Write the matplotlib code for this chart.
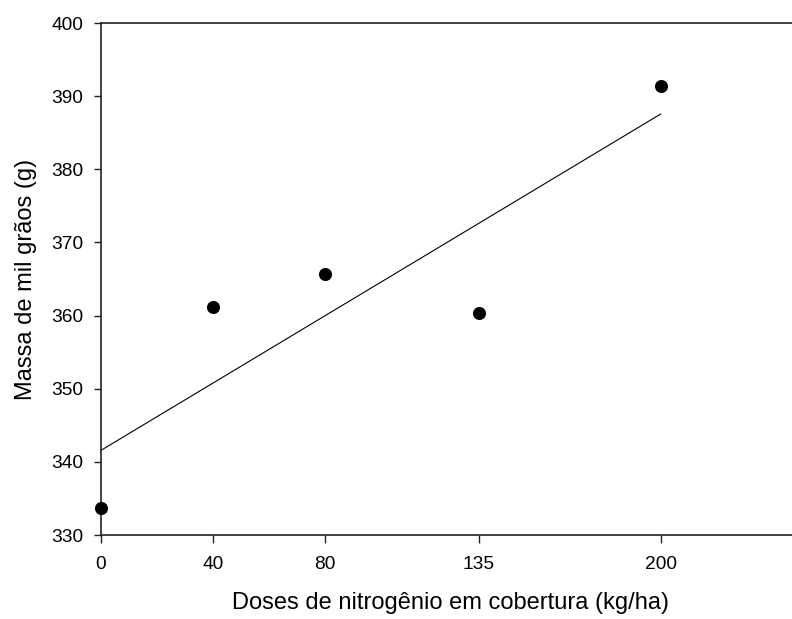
import matplotlib
matplotlib.use("Agg")
import matplotlib.pyplot as plt
import numpy as np

# doses de N em cobertura (kg/ha) e massa de mil grãos (g)
doses = [0, 40, 80, 135, 200]
massa = [333.7, 361.2, 365.7, 360.4, 391.4]
x_ticks = [0, 40, 80, 135, 200]
y_ticks = [330, 340, 350, 360, 370, 380, 390, 400]

plt.rcParams['font.family'] = ['Liberation Sans', 'DejaVu Sans']


def main():
    fig = plt.figure(figsize=(7.92, 6.19), dpi=100)
    ax = fig.add_axes([0.1271, 0.1357, 0.8838, 0.8271])

    # regressão linear sobre os pontos
    coef = np.polyfit(doses, massa, 1)
    xs = np.array([min(doses), max(doses)])
    ax.plot(xs, np.polyval(coef, xs), color='black', linewidth=0.8, zorder=2)
    ax.plot(doses, massa, 'o', color='black', markersize=8.4, zorder=3, clip_on=False)

    ax.set_xlim(0, 250)
    ax.set_ylim(330, 400)
    ax.set_xticks(x_ticks)
    ax.set_yticks(y_ticks)

    for side in ['left', 'bottom', 'top', 'right']:
        ax.spines[side].set_linewidth(1.2)
        ax.spines[side].set_color('#222222')

    ax.tick_params(axis='both', direction='out', length=5.4, width=1.0, labelsize=13.8, color='#222222')
    ax.tick_params(axis='x', pad=9.5)
    ax.tick_params(axis='y', pad=7)

    ax.set_xlabel('Doses de nitrogênio em cobertura (kg/ha)', fontsize=17, labelpad=14)
    ax.set_ylabel('Massa de mil grãos (g)', fontsize=17, labelpad=10)

    fig.savefig('out.png', dpi=100)


if __name__ == '__main__':
    main()
